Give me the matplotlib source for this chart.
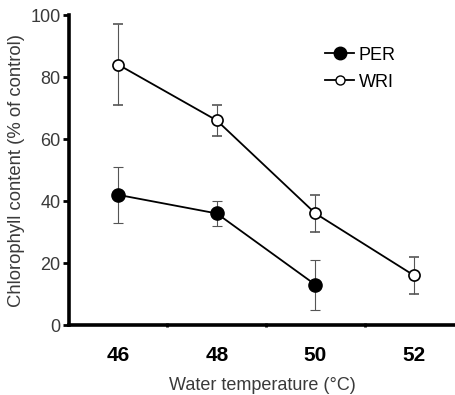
import matplotlib
matplotlib.use("Agg")
import matplotlib.pyplot as plt
from matplotlib.lines import Line2D

plt.rcParams["font.family"] = ["Liberation Sans", "DejaVu Sans"]

# water temperature (°C) and chlorophyll content (% of control), mean ± error
temp_per = [46, 48, 50]
per_mean = [42, 36, 13]
per_err = [9, 4, 8]

temp_wri = [46, 48, 50, 52]
wri_mean = [84, 66, 36, 16]
wri_err = [13, 5, 6, 6]

xticks = [46, 48, 50, 52]
yticks = [0, 20, 40, 60, 80, 100]

TXT = "#3a3a3a"

fig = plt.figure(figsize=(4.56, 3.95), dpi=100)
ax = fig.add_axes([0.151, 0.177, 0.849, 0.785])

ax.errorbar(temp_per, per_mean, yerr=per_err, fmt="-o", color="black",
            mfc="black", mec="black", ms=9.5, lw=1.3, elinewidth=0.8,
            ecolor="#555555", capsize=3.5, capthick=0.8, zorder=3)
ax.errorbar(temp_wri, wri_mean, yerr=wri_err, fmt="-o", color="black",
            mfc="white", mec="black", mew=1.2, ms=8, lw=1.3, elinewidth=0.8,
            ecolor="#555555", capsize=3.5, capthick=0.8, zorder=3)

ax.set_xlim(45, 52.85)
ax.set_ylim(0, 100)
ax.set_xticks(xticks)
ax.set_xticklabels([str(t) for t in xticks], fontweight="bold", fontsize=15)
ax.set_xticks([47, 49, 51], minor=True)
ax.tick_params(axis="x", which="major", length=0, pad=15, colors="black")
ax.tick_params(axis="x", which="minor", length=3, width=2, direction="inout")
ax.set_yticks(yticks)
ax.tick_params(axis="y", length=4, width=2, labelsize=13, labelcolor=TXT, pad=2)

for s in ("top", "right"):
    ax.spines[s].set_visible(False)
for s in ("left", "bottom"):
    ax.spines[s].set_linewidth(2.6)
ax.spines["bottom"].set_bounds(45, 53)

ax.set_xlabel("Water temperature (°C)", fontsize=13, color=TXT, labelpad=9)
ax.set_ylabel("Chlorophyll content (% of control)", fontsize=13.3, color=TXT,
              labelpad=4)

handles = [Line2D([], [], color="black", lw=1.3, marker="o", mfc="black", ms=9),
           Line2D([], [], color="black", lw=1.3, marker="o", mfc="white", ms=6.5)]
ax.legend(handles, ["PER", "WRI"], loc="upper left", bbox_to_anchor=(0.62, 0.95),
          frameon=False, fontsize=13, handlelength=1.6, handletextpad=0.25,
          labelspacing=0.55)

fig.savefig("out.png", dpi=100)
